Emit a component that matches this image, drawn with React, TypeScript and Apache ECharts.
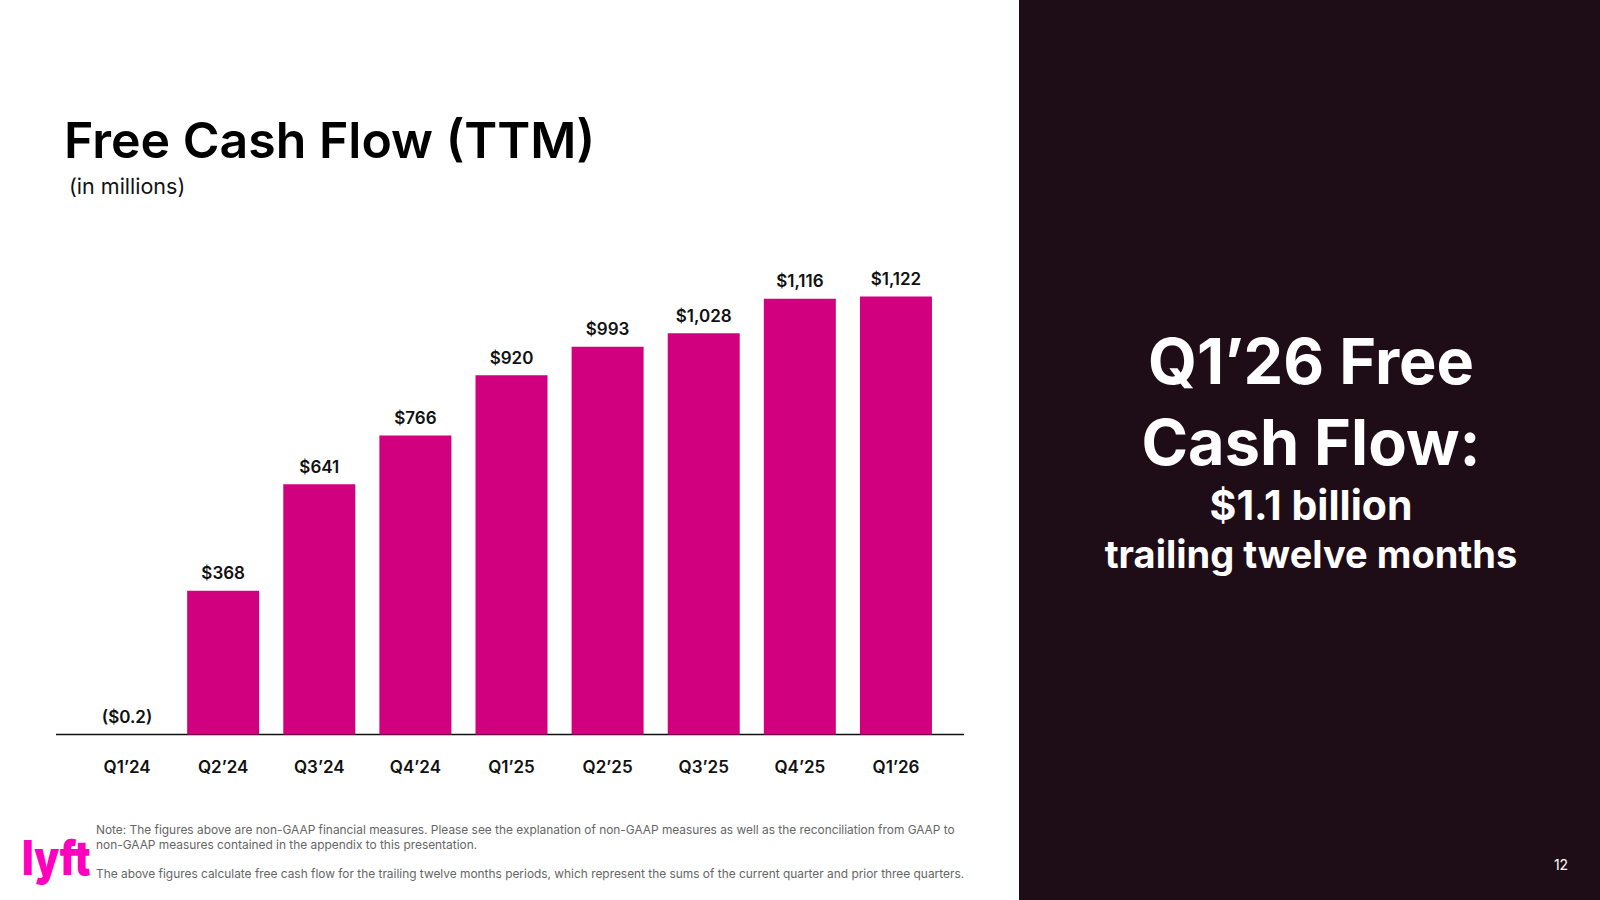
import React, { useEffect, useRef } from "react";
import * as echarts from "echarts";

const categories = ["Q1\u201924", "Q2\u201924", "Q3\u201924", "Q4\u201924", "Q1\u201925", "Q2\u201925", "Q3\u201925", "Q4\u201925", "Q1\u201926"];
const values = [-0.2, 368, 641, 766, 920, 993, 1028, 1116, 1122];
const valueLabels = ["($0.2)", "$368", "$641", "$766", "$920", "$993", "$1,028", "$1,116", "$1,122"];

const titleText = "Free Cash Flow (TTM)";
const subtitleText = "(in millions)";
const sideLines = ["Q1\u201926 Free", "Cash Flow:", "$1.1 billion", "trailing twelve months"];
const notes = [
  "Note: The figures above are non-GAAP financial measures. Please see the explanation of non-GAAP measures as well as the reconciliation from GAAP to",
  "non-GAAP measures contained in the appendix to this presentation.",
  "The above figures calculate free cash flow for the trailing twelve months periods, which represent the sums of the current quarter and prior three quarters.",
];

const PINK = "#D0007F";
const DARK = "#1E0C17";
const FONT = "Inter, 'Noto Sans', sans-serif";

export default function App() {
  const ref = useRef<HTMLDivElement>(null);
  useEffect(() => {
    if (!ref.current) return;
    const chart = echarts.init(ref.current, null, { renderer: "svg" });
    const sideY = [361, 442, 505, 554];
    const sideSize = [63, 63, 41, 38];
    chart.setOption({
      animation: false,
      backgroundColor: "#ffffff",
      textStyle: { fontFamily: FONT },
      grid: { left: 79, right: 1600 - 944, top: 266, bottom: 900 - 734.5, containLabel: false },
      xAxis: {
        type: "category",
        data: categories,
        axisLine: { show: false },
        axisTick: { show: false },
        axisLabel: { color: "#111", fontSize: 17, fontWeight: 600, fontFamily: FONT, margin: 24 },
      },
      yAxis: {
        type: "value",
        min: 0,
        max: 1200,
        show: false,
        splitLine: { show: false },
      },
      series: [
        {
          type: "bar",
          data: values.map((v, i) => ({
            value: v,
            label: { formatter: valueLabels[i] },
          })),
          barWidth: 72,
          itemStyle: { color: PINK },
          label: {
            show: true,
            position: "top",
            distance: 9,
            color: "#111",
            fontSize: 17,
            fontWeight: 600,
            fontFamily: FONT,
          },
        },
      ],
      graphic: [
        { type: "rect", shape: { x: 1019, y: 0, width: 581, height: 900 }, style: { fill: DARK }, silent: true },
        { type: "line", shape: { x1: 56, y1: 734.5, x2: 964, y2: 734.5 }, style: { stroke: "#111", lineWidth: 1.5 } },
        {
          type: "text",
          x: 64,
          y: 140,
          style: { text: titleText, fontSize: 50, fontWeight: 600, fill: "#000", fontFamily: FONT, verticalAlign: "middle" },
        },
        {
          type: "text",
          x: 69,
          y: 186,
          style: { text: subtitleText, fontSize: 21.5, fontWeight: 400, fill: "#111", fontFamily: FONT, verticalAlign: "middle" },
        },
        ...sideLines.map((t, i) => ({
          type: "text",
          x: 1311,
          y: sideY[i],
          style: {
            text: t,
            fontSize: sideSize[i],
            fontWeight: 700,
            fill: "#ffffff",
            fontFamily: FONT,
            align: "center",
            verticalAlign: "middle",
          },
        })),
        ...notes.map((t, i) => ({
          type: "text",
          x: 96,
          y: [829, 844, 873.5][i],
          style: { text: t, fontSize: 11.9, fill: "#666", fontFamily: FONT, verticalAlign: "middle" },
        })),
        {
          type: "text",
          x: 22,
          y: 858,
          scaleX: 0.82,
          style: { text: "lyft", fontSize: 48, fontWeight: 900, fill: "#FF00BF", fontFamily: FONT, verticalAlign: "middle" },
        },
        {
          type: "text",
          x: 1561,
          y: 864,
          style: { text: "12", fontSize: 14, fill: "#ffffff", fontFamily: FONT, align: "center", verticalAlign: "middle" },
        },
      ],
    });
    return () => chart.dispose();
  }, []);
  return <div ref={ref} style={{ position: "fixed", left: 0, top: 0, width: 1600, height: 900 }} />;
}
